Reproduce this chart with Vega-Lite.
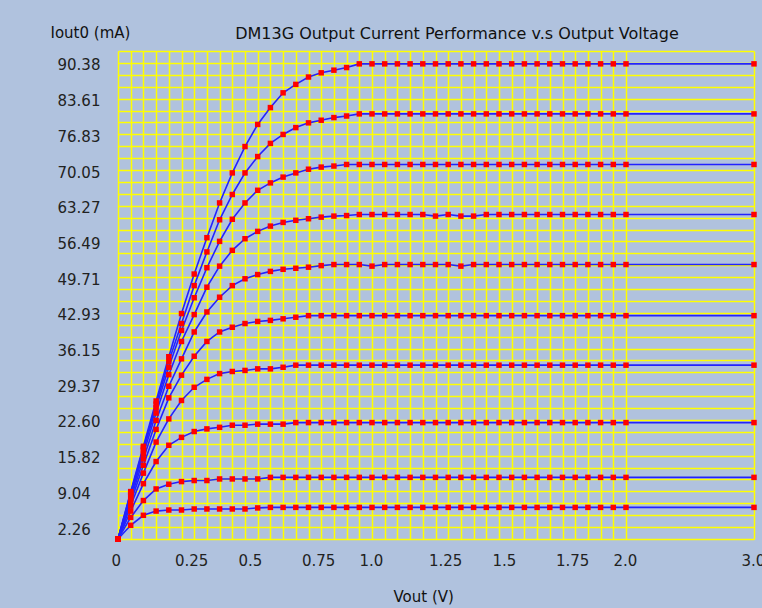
{
  "$schema": "https://vega.github.io/schema/vega-lite/v6.json",
  "description": "DM13G output current vs output voltage",
  "width": 636,
  "height": 488,
  "autosize": "none",
  "padding": {"left": 118, "top": 51, "right": 8, "bottom": 69},
  "background": "#B0C2DE",
  "title": {
    "text": "DM13G Output Current Performance v.s Output Voltage",
    "anchor": "middle",
    "frame": "group",
    "dx": 21,
    "dy": 27,
    "offset": 10,
    "font": "DejaVu Sans",
    "fontSize": 16,
    "fontWeight": "normal",
    "color": "#111111"
  },
  "config": {
    "view": {"stroke": null, "fill": "#B0C2DE"},
    "axis": {
      "grid": true,
      "gridColor": "#FFFF00",
      "gridWidth": 1.5,
      "gridOpacity": 1,
      "ticks": false,
      "tickSize": 0,
      "domain": false,
      "labelFont": "DejaVu Sans",
      "labelFontSize": 15,
      "labelColor": "#222222",
      "labelOverlap": false,
      "labelFlush": false,
      "titleFont": "DejaVu Sans",
      "titleFontSize": 15,
      "titleFontWeight": "normal",
      "titleColor": "#111111"
    }
  },
  "data": {
    "values": [
      {"c":1,"v":0,"a":0},{"c":1,"v":0.05,"a":9.0},{"c":1,"v":0.1,"a":17.6},{"c":1,"v":0.15,"a":26.2},{"c":1,"v":0.2,"a":34.6},{"c":1,"v":0.25,"a":42.8},{"c":1,"v":0.3,"a":50.3},{"c":1,"v":0.35,"a":57.2},{"c":1,"v":0.4,"a":63.8},{"c":1,"v":0.45,"a":69.5},{"c":1,"v":0.5,"a":74.5},{"c":1,"v":0.55,"a":78.7},{"c":1,"v":0.6,"a":81.9},{"c":1,"v":0.65,"a":84.7},{"c":1,"v":0.7,"a":86.3},{"c":1,"v":0.75,"a":87.7},{"c":1,"v":0.8,"a":88.5},{"c":1,"v":0.85,"a":89.0},{"c":1,"v":0.9,"a":89.5},{"c":1,"v":0.95,"a":90.2},{"c":1,"v":1,"a":90.2},{"c":1,"v":1.05,"a":90.2},{"c":1,"v":1.1,"a":90.2},{"c":1,"v":1.15,"a":90.2},{"c":1,"v":1.2,"a":90.2},{"c":1,"v":1.25,"a":90.2},{"c":1,"v":1.3,"a":90.2},{"c":1,"v":1.35,"a":90.2},{"c":1,"v":1.4,"a":90.2},{"c":1,"v":1.45,"a":90.2},{"c":1,"v":1.5,"a":90.2},{"c":1,"v":1.55,"a":90.2},{"c":1,"v":1.6,"a":90.2},{"c":1,"v":1.65,"a":90.2},{"c":1,"v":1.7,"a":90.2},{"c":1,"v":1.75,"a":90.2},{"c":1,"v":1.8,"a":90.2},{"c":1,"v":1.85,"a":90.2},{"c":1,"v":1.9,"a":90.2},{"c":1,"v":1.95,"a":90.2},{"c":1,"v":2,"a":90.2},{"c":1,"v":3,"a":90.2},
      {"c":2,"v":0,"a":0},{"c":2,"v":0.05,"a":8.8},{"c":2,"v":0.1,"a":17.3},{"c":2,"v":0.15,"a":25.6},{"c":2,"v":0.2,"a":33.7},{"c":2,"v":0.25,"a":40.9},{"c":2,"v":0.3,"a":48.1},{"c":2,"v":0.35,"a":54.5},{"c":2,"v":0.4,"a":60.6},{"c":2,"v":0.45,"a":65.4},{"c":2,"v":0.5,"a":69.5},{"c":2,"v":0.55,"a":72.6},{"c":2,"v":0.6,"a":75.1},{"c":2,"v":0.65,"a":76.8},{"c":2,"v":0.7,"a":78.1},{"c":2,"v":0.75,"a":79.0},{"c":2,"v":0.8,"a":79.5},{"c":2,"v":0.85,"a":80.0},{"c":2,"v":0.9,"a":80.3},{"c":2,"v":0.95,"a":80.7},{"c":2,"v":1,"a":80.7},{"c":2,"v":1.05,"a":80.7},{"c":2,"v":1.1,"a":80.7},{"c":2,"v":1.15,"a":80.7},{"c":2,"v":1.2,"a":80.7},{"c":2,"v":1.25,"a":80.7},{"c":2,"v":1.3,"a":80.7},{"c":2,"v":1.35,"a":80.7},{"c":2,"v":1.4,"a":80.7},{"c":2,"v":1.45,"a":80.7},{"c":2,"v":1.5,"a":80.7},{"c":2,"v":1.55,"a":80.7},{"c":2,"v":1.6,"a":80.7},{"c":2,"v":1.65,"a":80.7},{"c":2,"v":1.7,"a":80.7},{"c":2,"v":1.75,"a":80.7},{"c":2,"v":1.8,"a":80.7},{"c":2,"v":1.85,"a":80.7},{"c":2,"v":1.9,"a":80.7},{"c":2,"v":1.95,"a":80.7},{"c":2,"v":2,"a":80.7},{"c":2,"v":3,"a":80.7},
      {"c":3,"v":0,"a":0},{"c":3,"v":0.05,"a":8.5},{"c":3,"v":0.1,"a":16.9},{"c":3,"v":0.15,"a":24.9},{"c":3,"v":0.2,"a":32.6},{"c":3,"v":0.25,"a":39.6},{"c":3,"v":0.3,"a":45.8},{"c":3,"v":0.35,"a":51.5},{"c":3,"v":0.4,"a":56.5},{"c":3,"v":0.45,"a":60.7},{"c":3,"v":0.5,"a":63.8},{"c":3,"v":0.55,"a":66.2},{"c":3,"v":0.6,"a":67.6},{"c":3,"v":0.65,"a":68.7},{"c":3,"v":0.7,"a":69.5},{"c":3,"v":0.75,"a":70.2},{"c":3,"v":0.8,"a":70.6},{"c":3,"v":0.85,"a":70.8},{"c":3,"v":0.9,"a":71.1},{"c":3,"v":0.95,"a":71.1},{"c":3,"v":1,"a":71.1},{"c":3,"v":1.05,"a":71.1},{"c":3,"v":1.1,"a":71.1},{"c":3,"v":1.15,"a":71.1},{"c":3,"v":1.2,"a":71.1},{"c":3,"v":1.25,"a":71.1},{"c":3,"v":1.3,"a":71.1},{"c":3,"v":1.35,"a":71.1},{"c":3,"v":1.4,"a":71.1},{"c":3,"v":1.45,"a":71.1},{"c":3,"v":1.5,"a":71.1},{"c":3,"v":1.55,"a":71.1},{"c":3,"v":1.6,"a":71.1},{"c":3,"v":1.65,"a":71.1},{"c":3,"v":1.7,"a":71.1},{"c":3,"v":1.75,"a":71.1},{"c":3,"v":1.8,"a":71.1},{"c":3,"v":1.85,"a":71.1},{"c":3,"v":1.9,"a":71.1},{"c":3,"v":1.95,"a":71.1},{"c":3,"v":2,"a":71.1},{"c":3,"v":3,"a":71.1},
      {"c":4,"v":0,"a":0},{"c":4,"v":0.05,"a":8.1},{"c":4,"v":0.1,"a":16.2},{"c":4,"v":0.15,"a":23.9},{"c":4,"v":0.2,"a":31.2},{"c":4,"v":0.25,"a":37.5},{"c":4,"v":0.3,"a":42.6},{"c":4,"v":0.35,"a":47.8},{"c":4,"v":0.4,"a":51.8},{"c":4,"v":0.45,"a":54.8},{"c":4,"v":0.5,"a":57.0},{"c":4,"v":0.55,"a":58.4},{"c":4,"v":0.6,"a":59.4},{"c":4,"v":0.65,"a":60.1},{"c":4,"v":0.7,"a":60.5},{"c":4,"v":0.75,"a":60.8},{"c":4,"v":0.8,"a":61.1},{"c":4,"v":0.85,"a":61.3},{"c":4,"v":0.9,"a":61.4},{"c":4,"v":0.95,"a":61.6},{"c":4,"v":1,"a":61.6},{"c":4,"v":1.05,"a":61.6},{"c":4,"v":1.1,"a":61.6},{"c":4,"v":1.15,"a":61.6},{"c":4,"v":1.2,"a":61.6},{"c":4,"v":1.25,"a":61.3},{"c":4,"v":1.3,"a":61.6},{"c":4,"v":1.35,"a":61.3},{"c":4,"v":1.4,"a":61.3},{"c":4,"v":1.45,"a":61.6},{"c":4,"v":1.5,"a":61.6},{"c":4,"v":1.55,"a":61.6},{"c":4,"v":1.6,"a":61.6},{"c":4,"v":1.65,"a":61.6},{"c":4,"v":1.7,"a":61.6},{"c":4,"v":1.75,"a":61.6},{"c":4,"v":1.8,"a":61.6},{"c":4,"v":1.85,"a":61.6},{"c":4,"v":1.9,"a":61.6},{"c":4,"v":1.95,"a":61.6},{"c":4,"v":2,"a":61.6},{"c":4,"v":3,"a":61.6},
      {"c":5,"v":0,"a":0},{"c":5,"v":0.05,"a":7.6},{"c":5,"v":0.1,"a":15.2},{"c":5,"v":0.15,"a":22.5},{"c":5,"v":0.2,"a":29.0},{"c":5,"v":0.25,"a":34.2},{"c":5,"v":0.3,"a":39.3},{"c":5,"v":0.35,"a":43.1},{"c":5,"v":0.4,"a":45.9},{"c":5,"v":0.45,"a":48.1},{"c":5,"v":0.5,"a":49.4},{"c":5,"v":0.55,"a":50.2},{"c":5,"v":0.6,"a":50.8},{"c":5,"v":0.65,"a":51.2},{"c":5,"v":0.7,"a":51.4},{"c":5,"v":0.75,"a":51.6},{"c":5,"v":0.8,"a":51.9},{"c":5,"v":0.85,"a":52.1},{"c":5,"v":0.9,"a":52.1},{"c":5,"v":0.95,"a":52.1},{"c":5,"v":1,"a":51.8},{"c":5,"v":1.05,"a":52.1},{"c":5,"v":1.1,"a":52.1},{"c":5,"v":1.15,"a":52.1},{"c":5,"v":1.2,"a":52.1},{"c":5,"v":1.25,"a":52.1},{"c":5,"v":1.3,"a":52.1},{"c":5,"v":1.35,"a":51.8},{"c":5,"v":1.4,"a":52.1},{"c":5,"v":1.45,"a":52.1},{"c":5,"v":1.5,"a":52.1},{"c":5,"v":1.55,"a":52.1},{"c":5,"v":1.6,"a":52.1},{"c":5,"v":1.65,"a":52.1},{"c":5,"v":1.7,"a":52.1},{"c":5,"v":1.75,"a":52.1},{"c":5,"v":1.8,"a":52.1},{"c":5,"v":1.85,"a":52.1},{"c":5,"v":1.9,"a":52.1},{"c":5,"v":1.95,"a":52.1},{"c":5,"v":2,"a":52.1},{"c":5,"v":3,"a":52.1},
      {"c":6,"v":0,"a":0},{"c":6,"v":0.05,"a":7.0},{"c":6,"v":0.1,"a":14.0},{"c":6,"v":0.15,"a":20.8},{"c":6,"v":0.2,"a":26.8},{"c":6,"v":0.25,"a":31.1},{"c":6,"v":0.3,"a":34.7},{"c":6,"v":0.35,"a":37.5},{"c":6,"v":0.4,"a":39.3},{"c":6,"v":0.45,"a":40.2},{"c":6,"v":0.5,"a":40.9},{"c":6,"v":0.55,"a":41.3},{"c":6,"v":0.6,"a":41.5},{"c":6,"v":0.65,"a":41.8},{"c":6,"v":0.7,"a":42.1},{"c":6,"v":0.75,"a":42.4},{"c":6,"v":0.8,"a":42.4},{"c":6,"v":0.85,"a":42.4},{"c":6,"v":0.9,"a":42.4},{"c":6,"v":0.95,"a":42.4},{"c":6,"v":1,"a":42.4},{"c":6,"v":1.05,"a":42.4},{"c":6,"v":1.1,"a":42.4},{"c":6,"v":1.15,"a":42.4},{"c":6,"v":1.2,"a":42.4},{"c":6,"v":1.25,"a":42.4},{"c":6,"v":1.3,"a":42.4},{"c":6,"v":1.35,"a":42.4},{"c":6,"v":1.4,"a":42.4},{"c":6,"v":1.45,"a":42.4},{"c":6,"v":1.5,"a":42.4},{"c":6,"v":1.55,"a":42.4},{"c":6,"v":1.6,"a":42.4},{"c":6,"v":1.65,"a":42.4},{"c":6,"v":1.7,"a":42.4},{"c":6,"v":1.75,"a":42.4},{"c":6,"v":1.8,"a":42.4},{"c":6,"v":1.85,"a":42.4},{"c":6,"v":1.9,"a":42.4},{"c":6,"v":1.95,"a":42.4},{"c":6,"v":2,"a":42.4},{"c":6,"v":3,"a":42.4},
      {"c":7,"v":0,"a":0},{"c":7,"v":0.05,"a":6.3},{"c":7,"v":0.1,"a":12.5},{"c":7,"v":0.15,"a":18.4},{"c":7,"v":0.2,"a":22.8},{"c":7,"v":0.25,"a":26.3},{"c":7,"v":0.3,"a":28.8},{"c":7,"v":0.35,"a":30.3},{"c":7,"v":0.4,"a":31.4},{"c":7,"v":0.45,"a":31.8},{"c":7,"v":0.5,"a":32.0},{"c":7,"v":0.55,"a":32.3},{"c":7,"v":0.6,"a":32.3},{"c":7,"v":0.65,"a":32.6},{"c":7,"v":0.7,"a":33.0},{"c":7,"v":0.75,"a":33.0},{"c":7,"v":0.8,"a":33.0},{"c":7,"v":0.85,"a":33.0},{"c":7,"v":0.9,"a":33.0},{"c":7,"v":0.95,"a":33.0},{"c":7,"v":1,"a":33.0},{"c":7,"v":1.05,"a":33.0},{"c":7,"v":1.1,"a":33.0},{"c":7,"v":1.15,"a":33.0},{"c":7,"v":1.2,"a":33.0},{"c":7,"v":1.25,"a":33.0},{"c":7,"v":1.3,"a":33.0},{"c":7,"v":1.35,"a":33.0},{"c":7,"v":1.4,"a":33.0},{"c":7,"v":1.45,"a":33.0},{"c":7,"v":1.5,"a":33.0},{"c":7,"v":1.55,"a":33.0},{"c":7,"v":1.6,"a":33.0},{"c":7,"v":1.65,"a":33.0},{"c":7,"v":1.7,"a":33.0},{"c":7,"v":1.75,"a":33.0},{"c":7,"v":1.8,"a":33.0},{"c":7,"v":1.85,"a":33.0},{"c":7,"v":1.9,"a":33.0},{"c":7,"v":1.95,"a":33.0},{"c":7,"v":2,"a":33.0},{"c":7,"v":3,"a":33.0},
      {"c":8,"v":0,"a":0},{"c":8,"v":0.05,"a":5.3},{"c":8,"v":0.1,"a":10.5},{"c":8,"v":0.15,"a":14.7},{"c":8,"v":0.2,"a":17.8},{"c":8,"v":0.25,"a":19.3},{"c":8,"v":0.3,"a":20.4},{"c":8,"v":0.35,"a":20.9},{"c":8,"v":0.4,"a":21.2},{"c":8,"v":0.45,"a":21.6},{"c":8,"v":0.5,"a":21.6},{"c":8,"v":0.55,"a":21.8},{"c":8,"v":0.6,"a":21.8},{"c":8,"v":0.65,"a":21.8},{"c":8,"v":0.7,"a":22.1},{"c":8,"v":0.75,"a":22.1},{"c":8,"v":0.8,"a":22.1},{"c":8,"v":0.85,"a":22.1},{"c":8,"v":0.9,"a":22.1},{"c":8,"v":0.95,"a":22.1},{"c":8,"v":1,"a":22.1},{"c":8,"v":1.05,"a":22.1},{"c":8,"v":1.1,"a":22.1},{"c":8,"v":1.15,"a":22.1},{"c":8,"v":1.2,"a":22.1},{"c":8,"v":1.25,"a":22.1},{"c":8,"v":1.3,"a":22.1},{"c":8,"v":1.35,"a":22.1},{"c":8,"v":1.4,"a":22.1},{"c":8,"v":1.45,"a":22.1},{"c":8,"v":1.5,"a":22.1},{"c":8,"v":1.55,"a":22.1},{"c":8,"v":1.6,"a":22.1},{"c":8,"v":1.65,"a":22.1},{"c":8,"v":1.7,"a":22.1},{"c":8,"v":1.75,"a":22.1},{"c":8,"v":1.8,"a":22.1},{"c":8,"v":1.85,"a":22.1},{"c":8,"v":1.9,"a":22.1},{"c":8,"v":1.95,"a":22.1},{"c":8,"v":2,"a":22.1},{"c":8,"v":3,"a":22.1},
      {"c":9,"v":0,"a":0},{"c":9,"v":0.05,"a":4.1},{"c":9,"v":0.1,"a":7.3},{"c":9,"v":0.15,"a":9.5},{"c":9,"v":0.2,"a":10.4},{"c":9,"v":0.25,"a":10.9},{"c":9,"v":0.3,"a":11.1},{"c":9,"v":0.35,"a":11.1},{"c":9,"v":0.4,"a":11.4},{"c":9,"v":0.45,"a":11.4},{"c":9,"v":0.5,"a":11.4},{"c":9,"v":0.55,"a":11.4},{"c":9,"v":0.6,"a":11.7},{"c":9,"v":0.65,"a":11.7},{"c":9,"v":0.7,"a":11.7},{"c":9,"v":0.75,"a":11.7},{"c":9,"v":0.8,"a":11.7},{"c":9,"v":0.85,"a":11.7},{"c":9,"v":0.9,"a":11.7},{"c":9,"v":0.95,"a":11.7},{"c":9,"v":1,"a":11.7},{"c":9,"v":1.05,"a":11.7},{"c":9,"v":1.1,"a":11.7},{"c":9,"v":1.15,"a":11.7},{"c":9,"v":1.2,"a":11.7},{"c":9,"v":1.25,"a":11.7},{"c":9,"v":1.3,"a":11.7},{"c":9,"v":1.35,"a":11.7},{"c":9,"v":1.4,"a":11.7},{"c":9,"v":1.45,"a":11.7},{"c":9,"v":1.5,"a":11.7},{"c":9,"v":1.55,"a":11.7},{"c":9,"v":1.6,"a":11.7},{"c":9,"v":1.65,"a":11.7},{"c":9,"v":1.7,"a":11.7},{"c":9,"v":1.75,"a":11.7},{"c":9,"v":1.8,"a":11.7},{"c":9,"v":1.85,"a":11.7},{"c":9,"v":1.9,"a":11.7},{"c":9,"v":1.95,"a":11.7},{"c":9,"v":2,"a":11.7},{"c":9,"v":3,"a":11.7},
      {"c":10,"v":0,"a":0},{"c":10,"v":0.05,"a":2.6},{"c":10,"v":0.1,"a":4.5},{"c":10,"v":0.15,"a":5.3},{"c":10,"v":0.2,"a":5.5},{"c":10,"v":0.25,"a":5.5},{"c":10,"v":0.3,"a":5.7},{"c":10,"v":0.35,"a":5.7},{"c":10,"v":0.4,"a":5.7},{"c":10,"v":0.45,"a":5.7},{"c":10,"v":0.5,"a":5.7},{"c":10,"v":0.55,"a":5.9},{"c":10,"v":0.6,"a":6.0},{"c":10,"v":0.65,"a":6.0},{"c":10,"v":0.7,"a":6.0},{"c":10,"v":0.75,"a":6.0},{"c":10,"v":0.8,"a":6.0},{"c":10,"v":0.85,"a":6.0},{"c":10,"v":0.9,"a":6.0},{"c":10,"v":0.95,"a":6.0},{"c":10,"v":1,"a":6.0},{"c":10,"v":1.05,"a":6.0},{"c":10,"v":1.1,"a":6.0},{"c":10,"v":1.15,"a":6.0},{"c":10,"v":1.2,"a":6.0},{"c":10,"v":1.25,"a":6.0},{"c":10,"v":1.3,"a":6.0},{"c":10,"v":1.35,"a":6.0},{"c":10,"v":1.4,"a":6.0},{"c":10,"v":1.45,"a":6.0},{"c":10,"v":1.5,"a":6.0},{"c":10,"v":1.55,"a":6.0},{"c":10,"v":1.6,"a":6.0},{"c":10,"v":1.65,"a":6.0},{"c":10,"v":1.7,"a":6.0},{"c":10,"v":1.75,"a":6.0},{"c":10,"v":1.8,"a":6.0},{"c":10,"v":1.85,"a":6.0},{"c":10,"v":1.9,"a":6.0},{"c":10,"v":1.95,"a":6.0},{"c":10,"v":2,"a":6.0},{"c":10,"v":3,"a":6.0}
    ]
  },
  "encoding": {
    "x": {
      "field": "v",
      "type": "quantitative",
      "scale": {"domain": [0, 2, 3], "range": [0, 508, 636], "nice": false, "zero": false},
      "axis": {
        "orient": "bottom",
        "values": [0,0.05,0.1,0.15,0.2,0.25,0.3,0.35,0.4,0.45,0.5,0.55,0.6,0.65,0.7,0.75,0.8,0.85,0.9,0.95,1,1.05,1.1,1.15,1.2,1.25,1.3,1.35,1.4,1.45,1.5,1.55,1.6,1.65,1.7,1.75,1.8,1.85,1.9,1.95,2,3],
        "labelExpr": "datum.value == 3 ? '3.0' : (round(datum.value * 20) % 5 == 0 ? ['0','0.25','0.5','0.75','1.0','1.25','1.5','1.75','2.0'][round(datum.value * 4)] : '')",
        "labelAlign": "left",
        "labelBaseline": "top",
        "labelOffset": {"condition": {"test": "datum.value == 1 || datum.value == 2 || datum.value == 3", "value": -13}, "value": -7},
        "labelPadding": 14,
        "title": "Vout (V)",
        "titleAlign": "left",
        "titleBaseline": "middle",
        "titleX": 275,
        "titleY": 57
      }
    },
    "y": {
      "field": "a",
      "type": "quantitative",
      "scale": {"domain": [0, 92.641], "nice": false, "zero": true},
      "axis": {
        "values": [0,2.26,4.519,6.779,9.038,11.298,13.557,15.817,18.076,20.336,22.595,24.855,27.114,29.374,31.634,33.893,36.153,38.412,40.672,42.931,45.191,47.45,49.71,51.969,54.229,56.489,58.748,61.008,63.267,65.527,67.786,70.046,72.305,74.565,76.824,79.084,81.343,83.603,85.863,88.122,90.382,92.641],
        "labelExpr": "['','2.26','','','9.04','','','15.82','','','22.60','','','29.37','','','36.15','','','42.93','','','49.71','','','56.49','','','63.27','','','70.05','','','76.83','','','83.61','','','90.38',''][round(datum.value / 2.25954)]",
        "labelAlign": "left",
        "labelBaseline": "middle",
        "labelPadding": 61,
        "labelOffset": 2,
        "title": "Iout0 (mA)",
        "titleAngle": 0,
        "titleAlign": "left",
        "titleBaseline": "middle",
        "titleX": -68,
        "titleY": -19
      }
    },
    "detail": {"field": "c", "type": "nominal"}
  },
  "layer": [
    {"mark": {"type": "line", "color": "#2222FF", "strokeWidth": 1.6, "interpolate": "linear"}},
    {"mark": {"type": "point", "shape": "square", "filled": true, "color": "#FF0000", "opacity": 1, "size": 30}}
  ]
}
